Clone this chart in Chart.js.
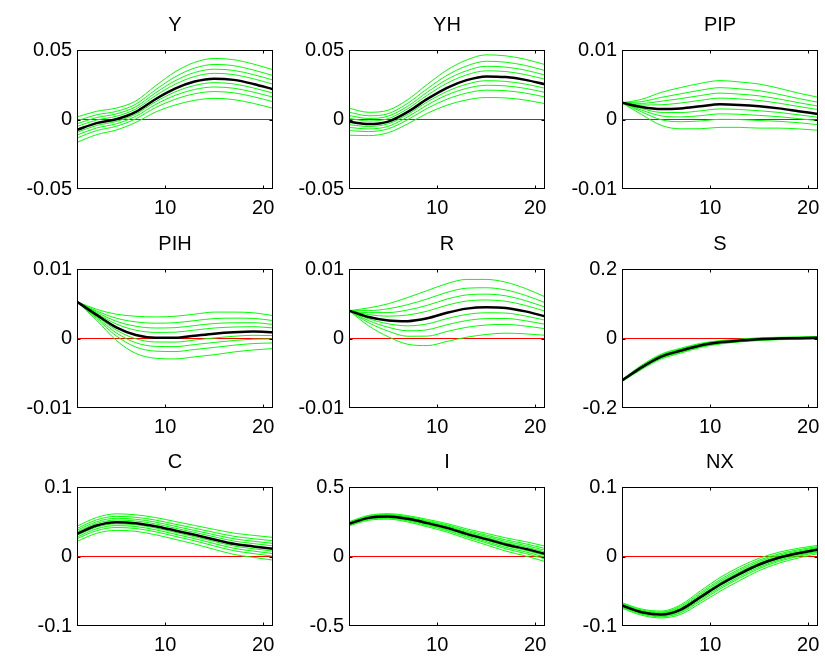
<!DOCTYPE html>
<html>
<head>
<meta charset="utf-8">
<script src="https://cdn.jsdelivr.net/npm/chart.js@4.4.1/dist/chart.umd.min.js"></script>
<style>
body{margin:0;background:#fff;overflow:hidden}
#fig{position:relative;width:825px;height:660px}
#fig canvas{position:absolute}
</style>
</head>
<body>
<div id="fig"></div>
<script>
/* ===== data ===== */
const steps = [1,3,5,7,9,11,13,15,17,19,21];
const xTicks = [10,20];

const yMed = [-0.0074,-0.0026,0.0002,0.0055,0.0146,0.0222,0.0273,0.0294,0.0285,0.0256,0.0218];
const yBands = [
 [0.0018,0.0059,0.0082,0.0133,0.0241,0.0342,0.0411,0.0439,0.043,0.0399,0.0358],
 [-0.001,0.0034,0.0058,0.011,0.0213,0.0306,0.037,0.0396,0.0387,0.0356,0.0316],
 [-0.0031,0.0014,0.004,0.0092,0.0191,0.0278,0.0338,0.0362,0.0353,0.0323,0.0284],
 [-0.005,-0.0004,0.0023,0.0075,0.0171,0.0253,0.0309,0.0332,0.0323,0.0293,0.0254],
 [-0.0092,-0.0043,-0.0014,0.0039,0.0127,0.0198,0.0245,0.0265,0.0256,0.0227,0.019],
 [-0.0112,-0.0061,-0.0031,0.0023,0.0107,0.0173,0.0216,0.0234,0.0225,0.0197,0.0161],
 [-0.0133,-0.008,-0.0049,0.0005,0.0085,0.0145,0.0185,0.0201,0.0192,0.0164,0.0128],
 [-0.0164,-0.0109,-0.0076,-0.0021,0.0053,0.0104,0.0138,0.0152,0.0143,0.0116,0.0081]
];

const yhMed = [-0.0017,-0.0033,-0.0015,0.0055,0.0148,0.0228,0.0283,0.031,0.0305,0.0285,0.0253];
const yhBands = [
 [0.0081,0.0052,0.0067,0.0143,0.0253,0.0356,0.0428,0.0465,0.0458,0.0433,0.0395],
 [0.0052,0.0027,0.0042,0.0117,0.0222,0.0318,0.0385,0.0419,0.0412,0.0389,0.0352],
 [0.0029,0.0007,0.0024,0.0096,0.0197,0.0288,0.0351,0.0383,0.0377,0.0355,0.032],
 [0.0008,-0.0011,0.0006,0.0078,0.0175,0.0261,0.0321,0.035,0.0345,0.0323,0.029],
 [-0.0037,-0.005,-0.0031,0.0037,0.0127,0.0202,0.0254,0.0279,0.0274,0.0255,0.0225],
 [-0.0057,-0.0068,-0.0049,0.0019,0.0105,0.0176,0.0224,0.0246,0.0242,0.0224,0.0195],
 [-0.008,-0.0087,-0.0067,-0.0001,0.0081,0.0146,0.019,0.0211,0.0207,0.019,0.0162],
 [-0.0113,-0.0116,-0.0095,-0.0031,0.0045,0.0103,0.0141,0.0158,0.0155,0.014,0.0114]
];

const pipMed = [0.0024,0.0018,0.0015,0.0016,0.0019,0.0022,0.0021,0.0019,0.0016,0.0012,0.0008];
const pipBands = [
 [0.0024,0.0029,0.0039,0.0046,0.0052,0.0056,0.0054,0.0051,0.0045,0.0038,0.0032],
 [0.0024,0.00257,0.00318,0.0037,0.00421,0.00458,0.00441,0.00414,0.00363,0.00302,0.00248],
 [0.0024,0.00232,0.00263,0.00301,0.00345,0.0038,0.00365,0.0034,0.00296,0.00242,0.00193],
 [0.0024,0.00209,0.00212,0.00238,0.00276,0.00308,0.00296,0.00273,0.00235,0.00188,0.00142],
 [0.0024,0.00158,0.00102,0.001,0.00124,0.00152,0.00144,0.00126,0.00102,0.00068,0.00032],
 [0.0024,0.00135,0.00052,0.00037,0.00055,0.00081,0.00075,0.00059,0.00041,0.00013,-0.00018],
 [0.0024,0.0011,-0.00004,-0.00032,-0.00021,0.00002,-0.00001,-0.00015,-0.00026,-0.00046,-0.00074],
 [0.0024,0.00072,-0.00085,-0.00134,-0.00133,-0.00113,-0.00113,-0.00124,-0.00124,-0.00135,-0.00155]
];

const pihMed = [0.0053,0.0034,0.0016,0.0005,0.0001,0.0001,0.0004,0.0007,0.0009,0.001,0.0009];
const pihBands = [
 [0.0053,0.0042,0.0035,0.0032,0.0031,0.0032,0.0035,0.0038,0.0038,0.0037,0.0033],
 [0.0053,0.00396,0.00293,0.00239,0.0022,0.00227,0.00257,0.00287,0.00293,0.00289,0.00258],
 [0.0053,0.00378,0.00249,0.00177,0.00151,0.00156,0.00186,0.00216,0.00226,0.00227,0.00203],
 [0.0053,0.00361,0.00209,0.0012,0.00088,0.00091,0.00121,0.00151,0.00165,0.0017,0.00152],
 [0.0053,0.00324,0.00122,-0.00004,-0.0005,-0.00052,-0.00022,0.00008,0.00032,0.00046,0.00042],
 [0.0053,0.00307,0.00082,-0.00061,-0.00113,-0.00117,-0.00087,-0.00057,-0.00029,-0.00011,-0.00008],
 [0.0053,0.00289,0.00038,-0.00123,-0.00182,-0.00188,-0.00158,-0.00128,-0.00096,-0.00073,-0.00064],
 [0.0053,0.00262,-0.00026,-0.00215,-0.00284,-0.00294,-0.00264,-0.00234,-0.00194,-0.00165,-0.00145]
];

const rMed = [0.004,0.0031,0.0026,0.0025,0.0029,0.0037,0.0043,0.0045,0.0044,0.0039,0.0032];
const rBands = [
 [0.004,0.0044,0.005,0.0059,0.0069,0.0079,0.0085,0.0085,0.0081,0.0072,0.006],
 [0.004,0.00401,0.00428,0.00488,0.0057,0.00664,0.00724,0.0073,0.00699,0.00621,0.00516],
 [0.004,0.00371,0.00373,0.0041,0.00478,0.00567,0.00627,0.00638,0.00614,0.00545,0.00452],
 [0.004,0.00344,0.00322,0.00338,0.00394,0.00479,0.00539,0.00554,0.00536,0.00476,0.00393],
 [0.004,0.00284,0.00212,0.00182,0.0021,0.00286,0.00346,0.0037,0.00366,0.00324,0.00264],
 [0.004,0.00257,0.00162,0.00111,0.00126,0.00198,0.00258,0.00286,0.00288,0.00255,0.00205],
 [0.004,0.00227,0.00106,0.00032,0.00034,0.00101,0.00161,0.00194,0.00203,0.00179,0.00141],
 [0.004,0.00183,0.00025,-0.00083,-0.00102,-0.00042,0.00018,0.00058,0.00077,0.00067,0.00046]
];

const sMed = [-0.121,-0.083,-0.052,-0.035,-0.02,-0.011,-0.006,-0.002,0,0.001,0.002];
const sBands = [
 [-0.118,-0.077,-0.045,-0.028,-0.014,-0.006,-0.002,0.002,0.0035,0.0045,0.0055],
 [-0.1189,-0.0788,-0.0471,-0.0301,-0.0158,-0.0075,-0.0032,0.0008,0.0025,0.0035,0.0045],
 [-0.1196,-0.0802,-0.0487,-0.0317,-0.0172,-0.0086,-0.0041,-0.0001,0.0016,0.0026,0.0036],
 [-0.1202,-0.0814,-0.0502,-0.0332,-0.0184,-0.0097,-0.005,-0.001,0.0009,0.0019,0.0029],
 [-0.1216,-0.0842,-0.0534,-0.0364,-0.0212,-0.012,-0.0068,-0.0028,-0.0007,0.0003,0.0013],
 [-0.1222,-0.0855,-0.0549,-0.0379,-0.0225,-0.0131,-0.0076,-0.0036,-0.0014,-0.0004,0.0006],
 [-0.1229,-0.0868,-0.0565,-0.0395,-0.0238,-0.0142,-0.0086,-0.0046,-0.0022,-0.0012,-0.0002],
 [-0.1239,-0.0889,-0.0589,-0.0419,-0.0259,-0.0159,-0.0099,-0.0059,-0.0034,-0.0024,-0.0014]
];

const cMed = [0.0326,0.0446,0.0494,0.048,0.0436,0.0374,0.0312,0.0245,0.0182,0.0144,0.011];
const cBands = [
 [0.0436,0.0561,0.0614,0.06,0.0561,0.0504,0.0447,0.039,0.0337,0.0304,0.0275],
 [0.0403,0.0527,0.0578,0.0564,0.0524,0.0465,0.0407,0.0347,0.0291,0.0256,0.0226],
 [0.0378,0.05,0.055,0.0536,0.0495,0.0435,0.0375,0.0313,0.0255,0.0219,0.0188],
 [0.0355,0.0476,0.0525,0.0511,0.0469,0.0408,0.0347,0.0283,0.0222,0.0186,0.0153],
 [0.0304,0.0423,0.047,0.0456,0.0411,0.0348,0.0285,0.0216,0.0151,0.0112,0.0077],
 [0.0281,0.0399,0.0445,0.0431,0.0385,0.0321,0.0257,0.0186,0.0118,0.0078,0.0042],
 [0.0256,0.0372,0.0417,0.0403,0.0356,0.0291,0.0226,0.0152,0.0083,0.0042,0.0004],
 [0.0218,0.0333,0.0376,0.0362,0.0313,0.0247,0.018,0.0103,0.003,-0.0013,-0.0052]
];

const iMed = [0.235,0.278,0.288,0.271,0.24,0.206,0.163,0.125,0.086,0.055,0.019];
const iBands = [
 [0.25,0.296,0.308,0.294,0.267,0.237,0.199,0.167,0.134,0.107,0.075],
 [0.2455,0.2906,0.302,0.2871,0.2589,0.2277,0.1882,0.1544,0.1196,0.0914,0.0582],
 [0.2421,0.2865,0.2974,0.2818,0.2527,0.2206,0.1799,0.1447,0.1086,0.0794,0.0453],
 [0.2389,0.2827,0.2932,0.277,0.247,0.2141,0.1724,0.1359,0.0985,0.0685,0.0336],
 [0.232,0.2744,0.284,0.2664,0.2346,0.1998,0.1558,0.1166,0.0764,0.0446,0.0078],
 [0.2288,0.2706,0.2798,0.2616,0.2289,0.1933,0.1482,0.1078,0.0663,0.0337,-0.004],
 [0.2254,0.2665,0.2752,0.2563,0.2227,0.1862,0.14,0.0981,0.0553,0.0217,-0.0168],
 [0.2203,0.2604,0.2684,0.2485,0.2135,0.1756,0.1277,0.0838,0.039,0.004,-0.0359]
];

const nxMed = [-0.0705,-0.0801,-0.0835,-0.0763,-0.0585,-0.0403,-0.0249,-0.0115,-0.0019,0.0048,0.0101];
const nxBands = [
 [-0.0665,-0.0756,-0.0785,-0.0693,-0.0495,-0.0303,-0.0149,-0.0025,0.0061,0.0118,0.0161],
 [-0.0677,-0.0769,-0.08,-0.0714,-0.0522,-0.0333,-0.0179,-0.0052,0.0037,0.0097,0.0143],
 [-0.0686,-0.078,-0.0811,-0.073,-0.0543,-0.0356,-0.0202,-0.0073,0.0019,0.0081,0.0129],
 [-0.0695,-0.0789,-0.0822,-0.0745,-0.0562,-0.0377,-0.0223,-0.0092,0.0002,0.0066,0.0117],
 [-0.0713,-0.081,-0.0845,-0.0777,-0.0603,-0.0423,-0.0269,-0.0133,-0.0035,0.0034,0.0089],
 [-0.0721,-0.0819,-0.0856,-0.0792,-0.0622,-0.0444,-0.029,-0.0152,-0.0052,0.0019,0.0076],
 [-0.0731,-0.083,-0.0867,-0.0808,-0.0643,-0.0467,-0.0313,-0.0173,-0.007,0.0003,0.0063],
 [-0.0744,-0.0845,-0.0884,-0.0832,-0.0673,-0.0501,-0.0347,-0.0203,-0.0097,-0.0021,0.0042]
];

const lab05 = ["-0.05","0","0.05"];
const lab01 = ["-0.01","0","0.01"];
const lab2 = ["-0.2","0","0.2"];
const lab1 = ["-0.1","0","0.1"];
const lab5 = ["-0.5","0","0.5"];

/* ===== panels ===== */
const panels = [
 {title:"Y",   med:yMed,   bands:yBands,   lim:0.05, labels:lab05},
 {title:"YH",  med:yhMed,  bands:yhBands,  lim:0.05, labels:lab05},
 {title:"PIP", med:pipMed, bands:pipBands, lim:0.01, labels:lab01},
 {title:"PIH", med:pihMed, bands:pihBands, lim:0.01, labels:lab01},
 {title:"R",   med:rMed,   bands:rBands,   lim:0.01, labels:lab01},
 {title:"S",   med:sMed,   bands:sBands,   lim:0.2,  labels:lab2},
 {title:"C",   med:cMed,   bands:cBands,   lim:0.1,  labels:lab1},
 {title:"I",   med:iMed,   bands:iBands,   lim:0.5,  labels:lab5},
 {title:"NX",  med:nxMed,  bands:nxBands,  lim:0.1,  labels:lab1}
];

const FONT = "'Liberation Sans', Arial, sans-serif";
const colLeft = [0,272,545], rowTop = [0,219,437];
const W = 279, H = 219;

const pts = arr => arr.map((v,i)=>({x:steps[i], y:v}));

/* matlab style frame with inward ticks */
const boxPlugin = {
 id:"box",
 afterDatasetsDraw(chart){
  const {ctx, chartArea:a, scales:{x,y}} = chart;
  const L=Math.round(a.left)+.5, R=Math.round(a.right)-.5;
  const T=Math.round(a.top)+.5, B=Math.round(a.bottom)-.5;
  ctx.save();
  ctx.strokeStyle="#000";
  ctx.lineWidth=1;
  ctx.strokeRect(L,T,R-L,B-T);
  ctx.beginPath();
  xTicks.forEach(v=>{
   const px=Math.round(x.getPixelForValue(v))+.5;
   ctx.moveTo(px,B); ctx.lineTo(px,B-3);
   ctx.moveTo(px,T); ctx.lineTo(px,T+3);
  });
  const py=Math.round(y.getPixelForValue(0))+.5;
  ctx.moveTo(L,py); ctx.lineTo(L+3,py);
  ctx.moveTo(R,py); ctx.lineTo(R-3,py);
  ctx.stroke();
  ctx.restore();
 }
};

const fig = document.getElementById("fig");

panels.forEach((p,k)=>{
 const cv = document.createElement("canvas");
 cv.width=W; cv.height=H;
 cv.style.left=colLeft[k%3]+"px";
 cv.style.top=rowTop[Math.floor(k/3)]+"px";
 fig.appendChild(cv);

 const datasets=[{data:pts(p.med), borderColor:"#000", borderWidth:2.5}];
 p.bands.forEach(b=>datasets.push({data:pts(b), borderColor:"#00ff00", borderWidth:1}));
 datasets.push({data:[{x:steps[0],y:0},{x:steps[steps.length-1],y:0}], borderColor:"#ff0000", borderWidth:1});

 new Chart(cv,{
  type:"line",
  data:{datasets},
  plugins:[boxPlugin],
  options:{
   responsive:false,
   animation:false,
   devicePixelRatio:1,
   events:[],
   layout:{padding:{left:0,right:6,top:0,bottom:0}},
   elements:{
    point:{radius:0},
    line:{cubicInterpolationMode:"monotone", fill:false}
   },
   plugins:{
    legend:{display:false},
    tooltip:{enabled:false},
    title:{
     display:true, text:p.title, color:"#000", fullSize:false,
     font:{family:FONT, size:20, weight:"normal", lineHeight:1},
     padding:{top:15,bottom:15}
    }
   },
   scales:{
    x:{
     type:"linear", min:steps[0], max:steps[steps.length-1],
     grid:{display:false, drawTicks:false},
     border:{display:false},
     afterBuildTicks:s=>{ s.ticks = xTicks.map(v=>({value:v})); },
     afterFit:s=>{ s.height=30; s.paddingLeft=0; s.paddingRight=0; },
     ticks:{autoSkip:false, maxRotation:0, padding:7, color:"#000",
      font:{family:FONT, size:20}, callback:v=>String(v)}
    },
    y:{
     min:-p.lim, max:p.lim,
     grid:{display:false, drawTicks:false},
     border:{display:false},
     afterBuildTicks:s=>{ s.ticks = [-p.lim,0,p.lim].map(v=>({value:v})); },
     afterFit:s=>{ s.width=77; s.paddingTop=0; s.paddingBottom=0; },
     ticks:{autoSkip:false, padding:5, color:"#000",
      font:{family:FONT, size:20}, callback:(v,i)=>p.labels[i]}
    }
   }
  }
 });
});
</script>
</body>
</html>
